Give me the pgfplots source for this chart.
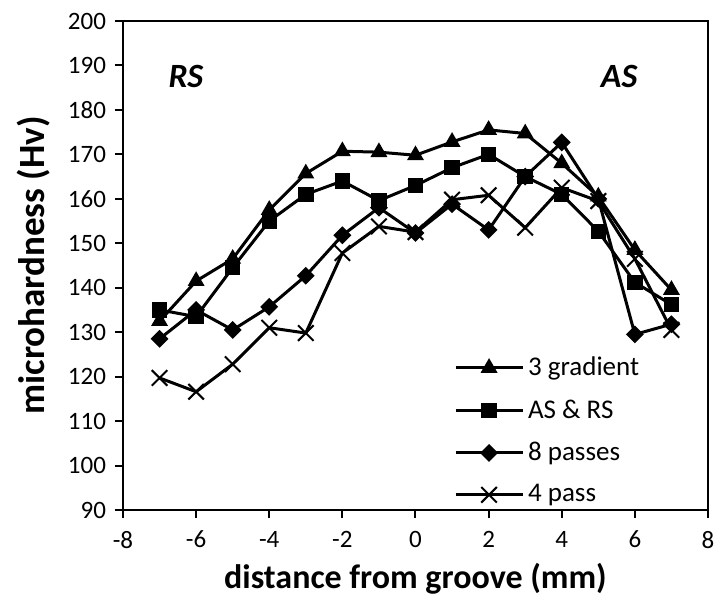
\documentclass[border=0pt]{standalone}
\usepackage{fontspec}
\setmainfont{Carlito}
\usepackage{pgfplots}
\pgfplotsset{compat=1.18}
\usetikzlibrary{calc}

\begin{document}
\begin{tikzpicture}
\begin{axis}[
    scale only axis,
    width=292.5pt, height=244.5pt,
    xmin=-8, xmax=8, ymin=90, ymax=200,
    xtick={-8,-6,...,8},
    ytick={90,100,...,200},
    axis line style={line width=1pt},
    tick style={line width=1pt, black},
    tick align=outside,
    major tick length=4pt,
    xtick pos=bottom, ytick pos=left,
    /pgf/number format/assume math mode=true,
    ticklabel style={font=\fontsize{12.5}{14}\selectfont},
    xticklabel style={yshift=-3pt},
    yticklabel style={xshift=-1pt},
    xlabel={\textbf{distance from groove (mm)}},
    ylabel={\textbf{microhardness (Hv)}},
    xlabel style={font=\fontsize{17}{20}\selectfont, at={(axis description cs:0.5,0)}, anchor=north, yshift=-23pt},
    ylabel style={font=\fontsize{18.5}{20}\selectfont, at={(axis description cs:0,0.5)}, anchor=south, yshift=33pt},
    every axis plot/.append style={line width=1.5pt, black},
    legend cell align=left,
    legend style={draw=none, fill=none, at={(rel axis cs:0.555,0.33)}, anchor=north west,
        font=\fontsize{13.5}{15}\selectfont, row sep=6.5pt,
        /tikz/every even column/.style={column sep=0pt}},
    legend image code/.code={\draw[mark repeat=2, mark phase=2] plot coordinates {(0pt,0pt) (16.75pt,0pt) (33.5pt,0pt)};},
]
\addplot[mark=triangle*, mark size=3.4pt, mark options={solid}] coordinates {
 (-7,132.5) (-6,141.5) (-5,146.5) (-4,157.5) (-3,165.7) (-2,170.7) (-1,170.5) (0,169.8)
 (1,172.8) (2,175.5) (3,174.7) (4,168) (5,160.5) (6,148.5) (7,139.5)
};
\addlegendentry{3 gradient}
\addplot[mark=square*, mark size=3.1pt] coordinates {
 (-7,135) (-6,133.5) (-5,144.5) (-4,155) (-3,161) (-2,164) (-1,159.6) (0,163)
 (1,167) (2,170) (3,165) (4,161) (5,152.7) (6,141.2) (7,136.2)
};
\addlegendentry{AS \& RS}
\addplot[mark=square*, mark size=2.4pt, mark options={rotate=45}] coordinates {
 (-7,128.5) (-6,135) (-5,130.5) (-4,135.7) (-3,142.7) (-2,151.8) (-1,158) (0,152.3)
 (1,158.8) (2,153) (3,165) (4,172.7) (5,160) (6,129.5) (7,131.8)
};
\addlegendentry{8 passes}
\addplot[mark=x, mark size=5.5pt, mark options={line width=1pt}] coordinates {
 (-7,119.7) (-6,116.6) (-5,122.8) (-4,131) (-3,129.8) (-2,147.8) (-1,153.8) (0,152.5)
 (1,159.8) (2,160.8) (3,153.5) (4,162.5) (5,159.5) (6,146.5) (7,130.5)
};
\addlegendentry{4 pass}
\node[font=\fontsize{17}{19}\selectfont\bfseries\itshape] at (axis cs:-6.28,187.6) {RS};
\node[font=\fontsize{17}{19}\selectfont\bfseries\itshape] at (axis cs:5.57,187.6) {AS};
\end{axis}
\pgfresetboundingbox
\path ($(current axis.south west)+(-61.5pt,-45.5pt)$) rectangle ($(current axis.north east)+(4pt,10.5pt)$);
\end{tikzpicture}
\end{document}
